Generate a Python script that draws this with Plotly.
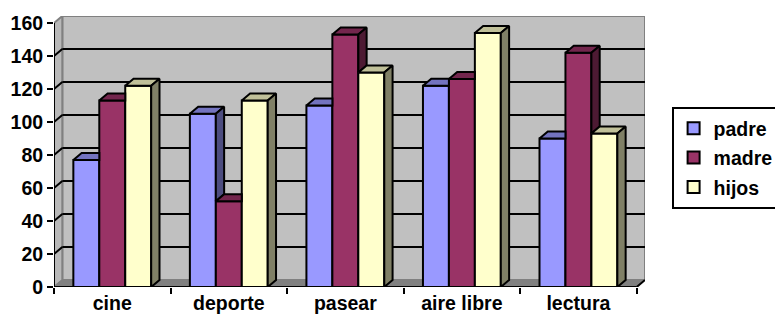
import plotly.graph_objects as go

# ---- data ----
categorias = ["cine", "deporte", "pasear", "aire libre", "lectura"]
nombres = ["padre", "madre", "hijos"]
padre = [77, 105, 110, 122, 90]
madre = [113, 52, 153, 126, 142]
hijos = [122, 113, 130, 154, 93]
y_ticks = [0, 20, 40, 60, 80, 100, 120, 140, 160]

# ---- style ----
col_front = ["#9999FF", "#993366", "#FFFFCC"]
col_side = ["#4D4D80", "#4D1A33", "#808066"]
col_top = ["#7373BF", "#73264D", "#C0C099"]
FONT = "Arial, Liberation Sans, sans-serif"
FS = 19.5
LW = 2

BARGAP = 0.332
W = (1 - BARGAP) / 3
DX = 0.0713   # depth offset in x data units
DY = 4.25     # depth offset in y data units
YMAX = y_ticks[-1]
XMIN, XMAX = -0.5, len(categorias) - 0.5

series = [padre, madre, hijos]
xs = list(range(len(categorias)))

fig = go.Figure()
for name, vals, col in zip(nombres, series, col_front):
    fig.add_trace(go.Bar(
        x=xs, y=vals, name=f"<b>{name}</b>", legendgroup=name,
        marker=dict(color=col, line=dict(color="black", width=LW)),
    ))

# 3D side and top faces, derived from the data values
for c in xs:
    for i in range(3):
        v = series[i][c]
        xl = c - 1.5 * W + i * W
        xr = xl + W
        nxt = series[i + 1][c] if i < 2 else None
        # top face
        if nxt is not None and nxt >= v + DY:
            tx = [xl, xr, xr, xl + DX, xl]
            ty = [v, v, v + DY, v + DY, v]
        elif nxt is not None and nxt > v:
            xm = xr + (nxt - v) / DY * DX
            tx = [xl, xr, xr, xm, xr + DX, xl + DX, xl]
            ty = [v, v, nxt, nxt, v + DY, v + DY, v]
        else:
            tx = [xl, xr, xr + DX, xl + DX, xl]
            ty = [v, v, v + DY, v + DY, v]
        fig.add_trace(go.Scatter(
            x=tx, y=ty, mode="lines", fill="toself", fillcolor=col_top[i],
            line=dict(color="black", width=LW), showlegend=False, hoverinfo="skip"))
        # side face
        if nxt is None:
            sx = [xr, xr + DX, xr + DX, xr, xr]
            sy = [0, DY, v + DY, v, 0]
        elif nxt < v:
            sx = [xr, xr + DX, xr + DX, xr, xr]
            sy = [nxt, nxt + DY, v + DY, v, nxt]
        else:
            sx = None
        if sx is not None:
            fig.add_trace(go.Scatter(
                x=sx, y=sy, mode="lines", fill="toself", fillcolor=col_side[i],
                line=dict(color="black", width=LW), showlegend=False, hoverinfo="skip"))

shapes = []
# back wall
shapes.append(dict(type="rect", xref="x", yref="y", x0=XMIN + DX, x1=XMAX + DX,
                   y0=DY, y1=YMAX + DY, fillcolor="#C0C0C0",
                   line=dict(color="#808080", width=LW), layer="below"))
# left wall
shapes.append(dict(type="path", xref="x", yref="y",
                   path=f"M {XMIN},0 L {XMIN},{YMAX} L {XMIN+DX},{YMAX+DY} L {XMIN+DX},{DY} Z",
                   fillcolor="#B8B8B8", line=dict(color="#808080", width=LW), layer="below"))
# floor
shapes.append(dict(type="path", xref="x", yref="y",
                   path=f"M {XMIN},0 L {XMAX},0 L {XMAX+DX},{DY} L {XMIN+DX},{DY} Z",
                   fillcolor="#808080", line=dict(color="#808080", width=1), layer="below"))
# gridlines on walls
for v in y_ticks[1:-1]:
    shapes.append(dict(type="line", xref="x", yref="y", x0=XMIN + DX, x1=XMAX + DX,
                       y0=v + DY, y1=v + DY, line=dict(color="black", width=LW), layer="below"))
    shapes.append(dict(type="line", xref="x", yref="y", x0=XMIN, x1=XMIN + DX,
                       y0=v, y1=v + DY, line=dict(color="black", width=LW), layer="below"))
# front axis lines
shapes.append(dict(type="line", xref="x", yref="y", x0=XMIN, x1=XMIN, y0=0, y1=YMAX,
                   line=dict(color="black", width=LW), layer="above"))
shapes.append(dict(type="line", xref="x", yref="y", x0=XMIN, x1=XMAX, y0=0, y1=0,
                   line=dict(color="black", width=LW), layer="above"))
shapes.append(dict(type="line", xref="x", yref="y", x0=XMAX, x1=XMAX + DX, y0=0, y1=DY,
                   line=dict(color="black", width=LW), layer="above"))

fig.update_layout(
    width=775, height=315,
    margin=dict(l=54, r=130, t=16, b=28, autoexpand=False),
    paper_bgcolor="white", plot_bgcolor="white",
    barmode="group", bargap=BARGAP, bargroupgap=0,
    shapes=shapes,
    font=dict(family=FONT, size=FS, color="black"),
    showlegend=True,
    legend=dict(x=1.045, y=0.664, xanchor="left", yanchor="top",
                bgcolor="white", bordercolor="black", borderwidth=LW,
                tracegroupgap=1, itemwidth=30,
                font=dict(family=FONT, size=FS, color="black")),
    xaxis=dict(range=[XMIN, XMAX + DX], tickvals=xs,
               ticktext=[f"<b>{c}</b>" for c in categorias],
               ticks="", showgrid=False, zeroline=False, showline=False,
               ticklabelstandoff=2,
               tickfont=dict(family=FONT, size=FS),
               minor=dict(tickvals=[x - 0.5 for x in xs] + [XMAX], ticks="outside",
                          ticklen=6, tickwidth=LW, tickcolor="black", showgrid=False),
               fixedrange=True),
    yaxis=dict(range=[0, YMAX + DY], tickvals=y_ticks,
               ticktext=[f"<b>{t}</b>" for t in y_ticks],
               ticks="outside", ticklen=6,
               tickwidth=LW, tickcolor="black", showgrid=False, zeroline=False,
               showline=False, tickfont=dict(family=FONT, size=FS),
               fixedrange=True),
)

fig.write_html("out.html", config={"displayModeBar": False},
               post_script="document.body.style.margin='0';document.body.style.padding='0';")
